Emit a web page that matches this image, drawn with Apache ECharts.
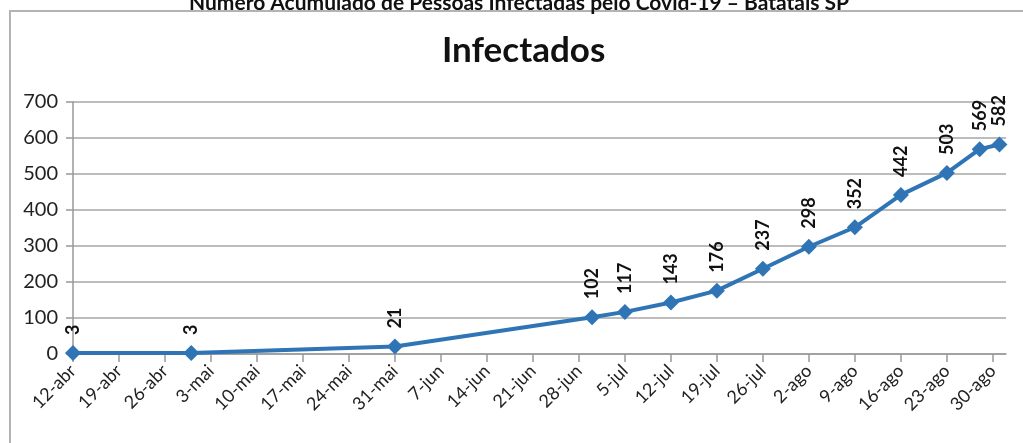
<!DOCTYPE html>
<html>
<head>
<meta charset="utf-8">
<script src="https://cdn.jsdelivr.net/npm/echarts@6/dist/echarts.min.js"></script>
<style>
  html, body { margin: 0; padding: 0; background: #fff; }
  #chart { width: 1023px; height: 443px; }
</style>
</head>
<body>
<div id="chart"></div>
<script>
// datas dos registros e casos acumulados
var dates = ['2020-04-12', '2020-04-30', '2020-05-31', '2020-06-30', '2020-07-05', '2020-07-12', '2020-07-19',
  '2020-07-26', '2020-08-02', '2020-08-09', '2020-08-16', '2020-08-23', '2020-08-28', '2020-08-31']
var infectados = [3, 3, 21, 102, 117, 143, 176, 237, 298, 352, 442, 503, 569, 582]

// marcas semanais do eixo x
var tickDates = ['2020-04-12', '2020-04-19', '2020-04-26', '2020-05-03', '2020-05-10', '2020-05-17', '2020-05-24',
  '2020-05-31', '2020-06-07', '2020-06-14', '2020-06-21', '2020-06-28', '2020-07-05', '2020-07-12',
  '2020-07-19', '2020-07-26', '2020-08-02', '2020-08-09', '2020-08-16', '2020-08-23', '2020-08-30']
var meses = ['jan', 'fev', 'mar', 'abr', 'mai', 'jun', 'jul', 'ago', 'set', 'out', 'nov', 'dez']
var yTicks = [0, 100, 200, 300, 400, 500, 600, 700]
var inicio = '2020-04-12'
var fim = '2020-09-01'

// dias contados a partir do inicio (eixo x em dias)
var DIA = 86400000
function dia(s) {
  return Math.round((Date.parse(s + 'T00:00:00Z') - Date.parse(inicio + 'T00:00:00Z')) / DIA)
}
function rotulo(n) {
  var d = new Date(Date.parse(inicio + 'T00:00:00Z') + n * DIA)
  return d.getUTCDate() + '-' + meses[d.getUTCMonth()]
}

var font = 'Lato, "Open Sans", sans-serif'
var myChart = echarts.init(document.getElementById('chart'))

myChart.setOption({
  animation: false,
  title: [
    {
      text: 'Número Acumulado de Pessoas Infectadas pelo Covid-19 – Batatais SP',
      left: 184,
      top: -12,
      textStyle: { fontFamily: font, fontSize: 21, fontWeight: 'bold', color: '#111' }
    },
    {
      text: 'Infectados',
      left: 437,
      top: 28,
      textStyle: { fontFamily: font, fontSize: 35, fontWeight: 'bold', color: '#111' }
    }
  ],
  graphic: [
    {
      type: 'rect',
      silent: true,
      shape: { x: 10, y: 11, width: 1100, height: 500 },
      style: { fill: 'none', stroke: '#b3b3b3', lineWidth: 2 }
    }
  ],
  grid: { left: 73, right: 17, top: 102, bottom: 89 },
  xAxis: {
    type: 'value',
    min: 0,
    max: dia(fim),
    axisLine: { lineStyle: { color: '#999', width: 1.5 } },
    axisTick: { show: true, length: 8, customValues: tickDates.map(dia), lineStyle: { color: '#999', width: 1.5 } },
    axisLabel: {
      customValues: tickDates.map(dia),
      rotate: 45,
      margin: 14,
      fontFamily: font,
      fontSize: 18,
      color: '#222',
      formatter: rotulo
    },
    splitLine: { show: false }
  },
  yAxis: {
    type: 'value',
    min: yTicks[0],
    max: yTicks[yTicks.length - 1],
    interval: 100,
    axisLine: { show: true, lineStyle: { color: '#999', width: 1.5 } },
    axisTick: { show: true, length: 7, lineStyle: { color: '#999', width: 1.5 } },
    axisLabel: { margin: 15, fontFamily: font, fontSize: 20, color: '#222' },
    splitLine: { show: true, lineStyle: { color: '#a6a6a6', width: 1.5 } }
  },
  series: [
    {
      name: 'Infectados',
      type: 'line',
      data: dates.map(function (d, i) { return [dia(d), infectados[i]] }),
      symbol: 'diamond',
      symbolSize: 16,
      lineStyle: { color: '#2f75b5', width: 4 },
      itemStyle: { color: '#2f75b5' },
      label: {
        show: true,
        position: 'top',
        distance: 10,
        rotate: 90,
        align: 'left',
        verticalAlign: 'middle',
        fontFamily: font,
        fontSize: 18,
        fontWeight: 'bold',
        color: '#111'
      }
    }
  ]
})
</script>
</body>
</html>
